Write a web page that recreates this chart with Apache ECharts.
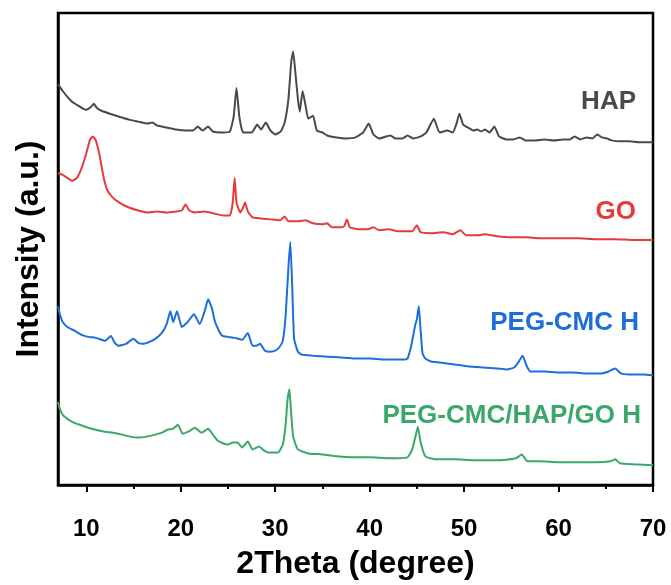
<!DOCTYPE html>
<html>
<head>
<meta charset="utf-8">
<script src="https://cdn.jsdelivr.net/npm/echarts@6/dist/echarts.min.js"></script>
<style>
html, body { margin: 0; padding: 0; background: #fff; }
#chart { width: 671px; height: 585px; }
</style>
</head>
<body>
<div id="chart"></div>
<script>
// 2theta (degree) vs. stacked intensity (a.u.)
var hap = [[7.0,406],[7.5,399],[8.0,393],[8.5,388],[9.0,385],[9.5,382],[10.0,380],[10.5,383],[10.8,386],[11.1,382],[11.6,379],[12.5,376],[13.5,373],[14.5,370],[15.5,368],[16.5,366],[17.0,367],[17.5,364],[18.5,362],[19.5,360],[20.5,359],[21.3,359],[21.8,363],[22.3,359],[22.9,363],[23.4,358],[24.5,357],[25.2,358],[25.6,373],[25.9,402],[26.2,373],[26.6,357],[27.5,357],[28.1,365],[28.5,360],[29.0,367],[29.5,359],[30.0,355],[30.6,358],[31.0,367],[31.4,391],[31.7,429],[31.9,439],[32.1,421],[32.4,391],[32.6,378],[32.9,399],[33.2,385],[33.5,371],[34.0,374],[34.4,359],[35.0,357],[35.5,354],[36.5,352],[37.5,351],[38.5,352],[39.3,357],[39.9,366],[40.4,355],[41.0,351],[42.2,354],[42.7,351],[43.5,351],[44.0,354],[44.6,351],[45.4,353],[46.0,357],[46.8,371],[47.4,357],[48.2,359],[48.8,357],[49.2,366],[49.5,376],[49.9,365],[50.6,361],[51.0,359],[51.4,360],[51.8,358],[52.2,360],[52.7,357],[53.2,363],[53.7,353],[54.5,350],[55.2,350],[55.9,352],[56.5,349],[57.5,349],[58.5,350],[59.5,349],[60.5,350],[61.2,350],[61.7,353],[62.3,350],[63.0,352],[63.6,351],[64.1,355],[64.6,352],[65.1,351],[65.6,349],[66.5,348],[67.5,348],[68.5,347],[70.0,347]];

var go = [[7.0,316],[7.5,314],[8.0,311],[8.5,308],[9.0,311],[9.5,321],[10.0,336],[10.4,350],[10.7,353],[11.0,349],[11.4,334],[11.8,313],[12.2,299],[12.8,291],[13.5,286],[14.5,281],[15.5,278],[16.5,276],[17.5,277],[18.5,276],[19.5,277],[20.1,278],[20.5,284],[20.9,278],[21.5,276],[22.5,277],[23.5,275],[24.5,273],[25.2,273],[25.5,286],[25.7,311],[25.9,286],[26.3,276],[26.6,281],[26.8,286],[27.1,277],[27.6,271],[28.5,270],[29.5,269],[30.5,268],[31.0,272],[31.4,267],[32.5,267],[33.2,268],[34.0,265],[35.0,264],[35.5,265],[36.0,261],[37.0,261],[37.3,262],[37.6,269],[37.9,261],[38.8,259],[39.8,259],[40.4,261],[41.0,258],[42.0,259],[43.0,257],[44.5,257],[45.0,263],[45.4,256],[46.5,255],[47.8,256],[48.8,254],[49.6,258],[50.2,253],[51.5,253],[52.2,254],[53.5,252],[55.0,251],[56.5,251],[58.0,250],[60.0,250],[62.0,250],[64.0,249],[66.0,249],[68.0,248],[70.0,248]];

var pegCmc = [[7.0,181],[7.2,173],[7.5,165],[8.0,160],[8.8,156],[9.5,152],[10.2,150],[11.0,149],[12.0,146],[12.6,151],[13.0,144],[13.4,141],[14.2,143],[15.0,148],[15.5,144],[16.0,143],[16.7,145],[17.3,148],[18.0,154],[18.5,163],[18.9,176],[19.2,165],[19.6,176],[20.1,160],[20.5,163],[20.8,166],[21.4,173],[22.0,163],[22.5,175],[22.9,188],[23.3,179],[23.6,166],[24.0,157],[24.4,151],[25.0,150],[25.7,149],[26.5,147],[27.1,154],[27.6,141],[28.0,141],[28.4,143],[28.9,136],[29.5,135],[30.0,136],[30.4,139],[30.8,146],[31.1,171],[31.4,221],[31.6,246],[31.8,201],[32.0,148],[32.4,135],[32.8,132],[34.0,131],[35.6,130],[37.0,129],[38.4,128],[40.0,128],[41.5,127],[42.5,127],[43.4,127],[44.0,128],[44.4,141],[44.8,161],[45.0,168],[45.2,181],[45.4,156],[45.6,133],[45.9,128],[46.5,125],[47.4,124],[49.0,122],[50.5,120],[52.0,119],[53.5,118],[54.5,117],[55.3,119],[55.8,125],[56.2,131],[56.6,121],[57.0,115],[58.5,115],[60.0,114],[61.5,114],[63.0,113],[64.5,113],[65.3,115],[66.0,118],[66.6,113],[67.5,112],[69.0,112],[70.0,111]];

var pegCmcHapGo = [[7.0,84],[7.2,77],[7.5,71],[8.0,67],[8.5,64],[9.3,61],[10.2,58],[11.0,56],[12.0,54],[12.8,53],[13.8,51],[14.6,49],[15.5,48],[16.4,49],[17.3,51],[18.0,53],[18.6,56],[19.2,57],[19.7,61],[20.2,52],[20.8,54],[21.5,58],[22.2,53],[22.9,57],[23.4,51],[23.9,45],[24.5,42],[25.0,41],[25.5,43],[26.0,43],[26.5,38],[27.1,44],[27.6,36],[28.3,39],[28.8,35],[29.2,33],[30.3,33],[30.8,41],[31.1,61],[31.3,86],[31.5,97],[31.7,71],[31.9,49],[32.4,36],[33.5,32],[35.0,31],[36.5,29],[38.4,28],[40.0,28],[42.0,27],[44.0,28],[44.5,36],[44.9,51],[45.1,59],[45.4,43],[45.9,29],[47.0,26],[49.0,26],[51.0,25],[53.8,25],[55.5,27],[56.1,31],[56.7,24],[58.0,24],[60.0,23],[62.0,23],[64.0,23],[65.5,24],[66.0,26],[66.5,22],[68.0,21],[70.0,20]];

var tickLabels = [10, 20, 30, 40, 50, 60, 70];
var minorTicks = [15, 25, 35, 45, 55, 65];

var names = ['HAP', 'GO', 'PEG-CMC H', 'PEG-CMC/HAP/GO H'];
var colors = ['#4a4a4a', '#e53b3f', '#1c6fdb', '#3aa86b'];
var datasets = [hap, go, pegCmc, pegCmcHapGo];
// label anchors (right edge x, middle y) in pixels
var labelPos = [[636, 102], [636, 212], [639, 323], [641, 416]];

var font = "'Liberation Sans', Arial, sans-serif";

var chart = echarts.init(document.getElementById('chart'));

var series = datasets.map(function (d, i) {
	return {
		name: names[i],
		type: 'line',
		data: d,
		showSymbol: false,
		smooth: 0.15,
		xAxisIndex: 0,
		lineStyle: { color: colors[i], width: 2 },
		itemStyle: { color: colors[i] }
	};
});

chart.setOption({
	animation: false,
	backgroundColor: '#fff',
	grid: {
		left: 58, right: 18, top: 13, bottom: 94,
		show: true, borderColor: '#000', borderWidth: 2.5
	},
	xAxis: [{
		type: 'value', min: 7, max: 70,
		name: '2Theta (degree)', nameLocation: 'middle', nameGap: 63,
		nameTextStyle: { fontFamily: font, fontWeight: 'bold', fontSize: 32, color: '#000' },
		axisLine: { show: true, lineStyle: { color: '#000', width: 2.5 } },
		axisTick: { show: true, length: 7, lineStyle: { color: '#000', width: 2 }, customValues: tickLabels },
		axisLabel: {
			customValues: tickLabels, margin: 32,
			fontFamily: font, fontWeight: 'bold', fontSize: 24, color: '#000'
		},
		splitLine: { show: false }
	}, {
		type: 'value', min: 7, max: 70, position: 'bottom',
		axisLine: { show: false },
		axisTick: { show: true, length: 4, lineStyle: { color: '#000', width: 2 }, customValues: minorTicks },
		axisLabel: { show: false },
		splitLine: { show: false }
	}],
	yAxis: {
		type: 'value', min: 0, max: 478,
		name: 'Intensity (a.u.)', nameLocation: 'middle', nameGap: 13,
		nameTextStyle: { fontFamily: font, fontWeight: 'bold', fontSize: 32, color: '#000' },
		axisLine: { show: true, lineStyle: { color: '#000', width: 2.5 } },
		axisTick: { show: false },
		axisLabel: { show: false },
		splitLine: { show: false }
	},
	series: series,
	graphic: names.map(function (n, i) {
		return {
			type: 'text', x: labelPos[i][0], y: labelPos[i][1],
			style: {
				text: n, fill: colors[i], align: 'right', verticalAlign: 'middle',
				fontFamily: font, fontWeight: 'bold', fontSize: 26
			}
		};
	})
});
</script>
</body>
</html>
